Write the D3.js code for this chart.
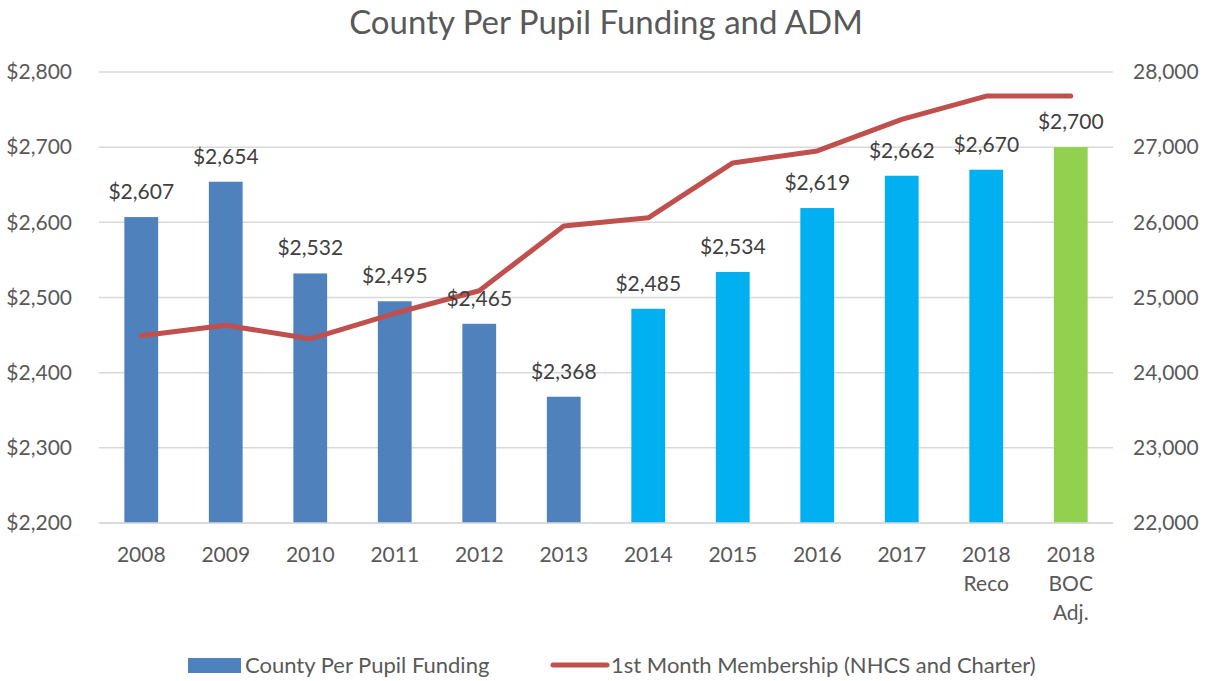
<!DOCTYPE html>
<html>
<head>
<meta charset="utf-8">
<script src="https://cdn.jsdelivr.net/npm/d3@7"></script>
<style>
  body { margin: 0; background: #fff; }
  text { font-family: Lato, "Open Sans", sans-serif; fill: #595959; }
</style>
</head>
<body>
<script>
const w = 1210
const h = 681

const categories = ['2008', '2009', '2010', '2011', '2012', '2013', '2014', '2015', '2016', '2017', '2018\nReco', '2018\nBOC\nAdj.']
const funding = [2607, 2654, 2532, 2495, 2465, 2368, 2485, 2534, 2619, 2662, 2670, 2700]
const membership = [24490, 24630, 24450, 24790, 25090, 25950, 26060, 26790, 26950, 27370, 27680, 27680]
const barColors = ['#4F81BD', '#4F81BD', '#4F81BD', '#4F81BD', '#4F81BD', '#4F81BD', '#00B0F0', '#00B0F0', '#00B0F0', '#00B0F0', '#00B0F0', '#92D050']
const leftTicks = [2200, 2300, 2400, 2500, 2600, 2700, 2800]
const rightTicks = [22000, 23000, 24000, 25000, 26000, 27000, 28000]

const plotL = 99, plotR = 1113, plotT = 72, plotB = 523

const svg = d3.select('body')
	.append('svg')
	.attr('width', w)
	.attr('height', h)

const xScale = d3.scaleBand()
	.domain(categories)
	.range([plotL, plotR])
	.paddingInner(0.6)
	.paddingOuter(0.3)

const yLeft = d3.scaleLinear()
	.domain([2200, 2800])
	.range([plotB, plotT])

const yRight = d3.scaleLinear()
	.domain([22000, 28000])
	.range([plotB, plotT])

// gridlines
svg.append('g')
	.selectAll('line')
	.data(leftTicks)
	.enter()
	.append('line')
	.attr('x1', plotL)
	.attr('x2', plotR)
	.attr('y1', d => yLeft(d))
	.attr('y2', d => yLeft(d))
	.attr('stroke', '#D9D9D9')
	.attr('stroke-width', 1.5)

const fmtMoney = d => '$' + d3.format(',')(d)

// left axis
const yAxisL = d3.axisLeft(yLeft).tickValues(leftTicks).tickFormat(fmtMoney).tickSize(0).tickPadding(27)
svg.append('g')
	.attr('transform', `translate(${plotL},0)`)
	.call(yAxisL)
	.call(g => g.select('.domain').remove())
	.selectAll('text')
	.attr('font-size', '21px')
	.style('fill', '#595959')

// right axis
const yAxisR = d3.axisRight(yRight).tickValues(rightTicks).tickFormat(d3.format(',')).tickSize(0).tickPadding(20)
svg.append('g')
	.attr('transform', `translate(${plotR},0)`)
	.call(yAxisR)
	.call(g => g.select('.domain').remove())
	.selectAll('text')
	.attr('font-size', '21px')
	.style('fill', '#595959')

// bars
svg.selectAll('rect.bar')
	.data(funding)
	.enter()
	.append('rect')
	.attr('class', 'bar')
	.attr('x', (d, i) => xScale(categories[i]))
	.attr('y', d => yLeft(d))
	.attr('width', xScale.bandwidth())
	.attr('height', d => plotB - yLeft(d))
	.attr('fill', (d, i) => barColors[i])

// x labels
const xl = svg.append('g')
xl.selectAll('text')
	.data(categories)
	.enter()
	.append('text')
	.attr('text-anchor', 'middle')
	.attr('font-size', '21px')
	.each(function (d) {
		const cx = xScale(d) + xScale.bandwidth() / 2
		d.split('\n').forEach((s, j) => {
			d3.select(this).append('tspan')
				.attr('x', cx)
				.attr('y', 562 + j * 29)
				.text(s)
		})
	})

// membership line
const lineFunction = d3.line()
	.x((d, i) => xScale(categories[i]) + xScale.bandwidth() / 2)
	.y(d => yRight(d))

svg.append('path')
	.attr('d', lineFunction(membership))
	.attr('stroke', '#C0504D')
	.attr('stroke-width', 5)
	.attr('stroke-linecap', 'round')
	.attr('stroke-linejoin', 'round')
	.attr('fill', 'none')

// data labels
svg.selectAll('text.lbl')
	.data(funding)
	.enter()
	.append('text')
	.attr('class', 'lbl')
	.attr('text-anchor', 'middle')
	.attr('font-size', '21px')
	.attr('x', (d, i) => xScale(categories[i]) + xScale.bandwidth() / 2)
	.attr('y', d => yLeft(d) - 18)
	.style('fill', '#404040')
	.text(fmtMoney)

// axis baseline
svg.append('line')
	.attr('x1', plotL)
	.attr('x2', plotR)
	.attr('y1', plotB)
	.attr('y2', plotB)
	.attr('stroke', '#D9D9D9')
	.attr('stroke-width', 1.5)

// title
svg.append('text')
	.attr('x', 606)
	.attr('y', 34)
	.attr('text-anchor', 'middle')
	.attr('font-size', '33px')
	.text('County Per Pupil Funding and ADM')

// legend
svg.append('rect')
	.attr('x', 188)
	.attr('y', 658)
	.attr('width', 53)
	.attr('height', 15)
	.attr('fill', '#4F81BD')
svg.append('text')
	.attr('x', 245)
	.attr('y', 673)
	.attr('font-size', '22px')
	.text('County Per Pupil Funding')

svg.append('line')
	.attr('x1', 553)
	.attr('x2', 607)
	.attr('y1', 665)
	.attr('y2', 665)
	.attr('stroke', '#C0504D')
	.attr('stroke-width', 5)
	.attr('stroke-linecap', 'round')
svg.append('text')
	.attr('x', 611)
	.attr('y', 673)
	.attr('font-size', '22px')
	.text('1st Month Membership (NHCS and Charter)')
</script>
</body>
</html>
